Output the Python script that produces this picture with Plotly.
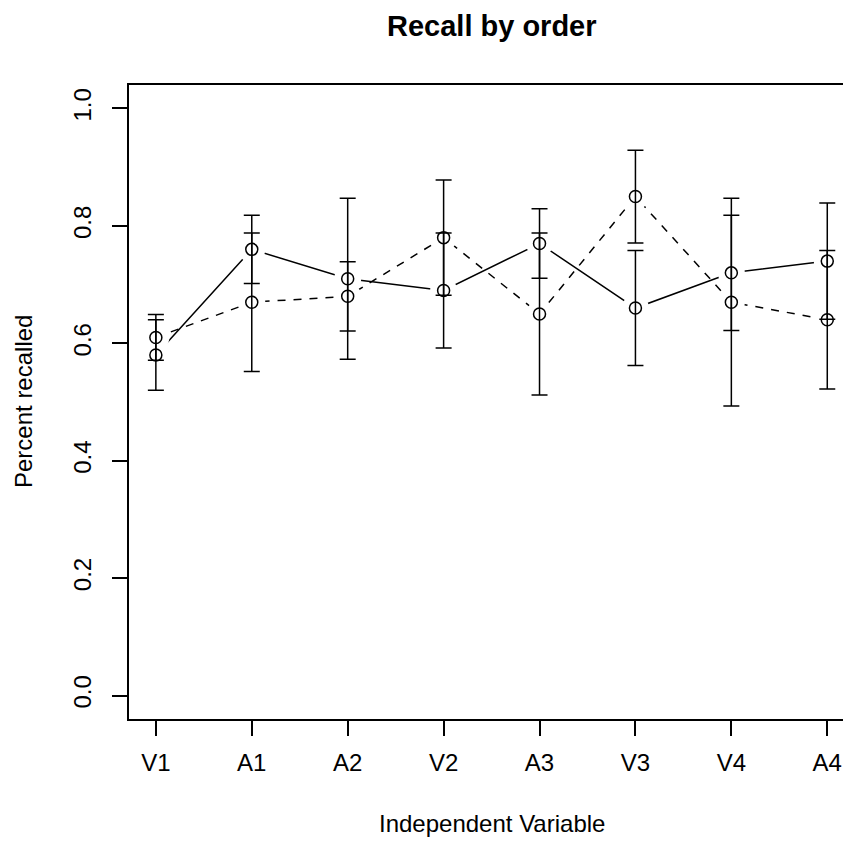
import plotly.graph_objects as go

conditions = ["V1", "A1", "A2", "V2", "A3", "V3", "V4", "A4"]
x_pos = [1, 2, 3, 4, 5, 6, 7, 8]

solid_mean = [0.58, 0.76, 0.71, 0.69, 0.77, 0.66, 0.72, 0.74]
solid_err = [0.060, 0.058, 0.137, 0.098, 0.059, 0.098, 0.098, 0.099]

dashed_mean = [0.61, 0.67, 0.68, 0.78, 0.65, 0.85, 0.67, 0.64]
dashed_err = [0.039, 0.118, 0.059, 0.098, 0.138, 0.079, 0.177, 0.118]

y_ticks = [0.0, 0.2, 0.4, 0.6, 0.8, 1.0]
y_tick_text = ["0.0", "0.2", "0.4", "0.6", "0.8", "1.0"]

FONT = "Liberation Sans, Arial, Helvetica, sans-serif"
LW = 1.5

fig = go.Figure()

# connecting lines
fig.add_trace(go.Scatter(x=x_pos, y=solid_mean, mode="lines",
                         line=dict(color="black", width=LW), hoverinfo="skip"))
fig.add_trace(go.Scatter(x=x_pos, y=dashed_mean, mode="lines",
                         line=dict(color="black", width=LW, dash="8px,8px"), hoverinfo="skip"))
# white gaps around points (type = "b")
for m in (solid_mean, dashed_mean):
    fig.add_trace(go.Scatter(x=x_pos, y=m, mode="markers",
                             marker=dict(symbol="circle", size=27, color="white",
                                         line=dict(width=0)), hoverinfo="skip"))
# error bars
for m, e in ((solid_mean, solid_err), (dashed_mean, dashed_err)):
    fig.add_trace(go.Scatter(x=x_pos, y=m, mode="markers",
                             marker=dict(size=1, color="rgba(0,0,0,0)"),
                             error_y=dict(type="data", array=e, visible=True,
                                          color="black", thickness=LW, width=8),
                             hoverinfo="skip"))
# open circles
for m in (solid_mean, dashed_mean):
    fig.add_trace(go.Scatter(x=x_pos, y=m, mode="markers",
                             marker=dict(symbol="circle-open", size=12, color="black",
                                         line=dict(width=LW, color="black"))))

fig.update_layout(
    width=843, height=842,
    margin=dict(l=129, r=0, t=85, b=123, pad=0),
    paper_bgcolor="white", plot_bgcolor="white",
    showlegend=False,
    font=dict(family=FONT, size=24, color="black"),
    xaxis=dict(range=[0.72, 8.164], tickmode="array", tickvals=x_pos, ticktext=conditions,
               showgrid=False, zeroline=False, showline=True, linecolor="black", linewidth=LW,
               mirror=True, ticks="outside", ticklen=15, tickwidth=LW, tickcolor="black",
               ticklabelstandoff=6,
               tickfont=dict(family=FONT, size=24, color="black")),
    yaxis=dict(range=[-0.04, 1.04], tickmode="array", tickvals=y_ticks, ticktext=y_tick_text,
               showgrid=False, zeroline=False, showline=True, linecolor="black", linewidth=LW,
               ticks="outside", ticklen=15, tickwidth=LW, tickcolor="black", tickangle=-90,
               ticklabelstandoff=12,
               tickfont=dict(family=FONT, size=24, color="black")),
    annotations=[
        dict(text="<b>Recall by order</b>", x=4.5, xref="x", y=1, yref="paper",
             yanchor="middle", yshift=59, showarrow=False,
             font=dict(family=FONT, size=29, color="black")),
        dict(text="Independent Variable", x=4.5, xref="x", y=0, yref="paper",
             yanchor="middle", yshift=-104, showarrow=False,
             font=dict(family=FONT, size=24, color="black")),
        dict(text="Percent recalled", x=0, xref="paper", xshift=-106, y=0.5, yref="paper",
             xanchor="center", yanchor="middle", textangle=-90, showarrow=False,
             font=dict(family=FONT, size=24, color="black")),
    ],
)

fig.write_html("out.html", config={"displayModeBar": False},
               post_script="document.body.style.margin='0';document.body.style.overflow='hidden';")
